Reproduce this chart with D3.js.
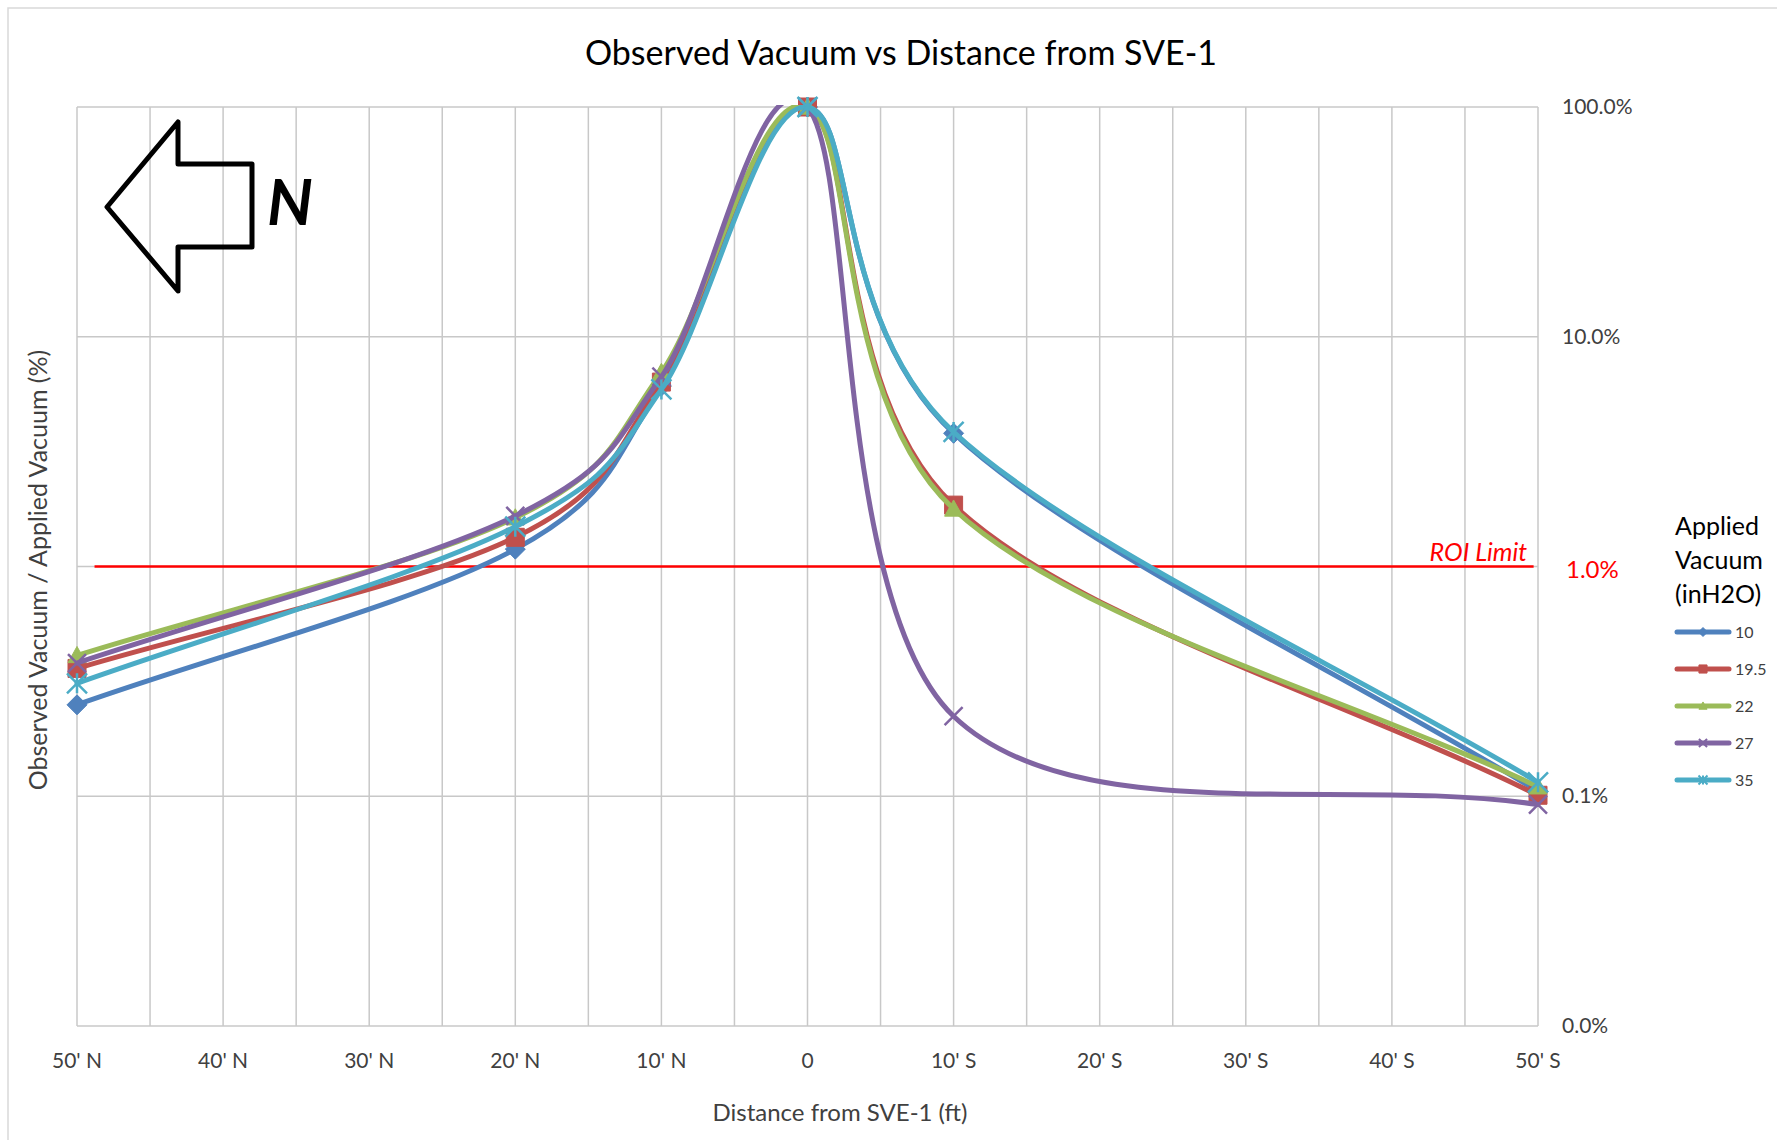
<!DOCTYPE html>
<html>
<head>
<meta charset="utf-8">
<script src="https://cdn.jsdelivr.net/npm/d3@7"></script>
<style>
  body { margin: 0; background: #fff; }
  svg { display: block; font-family: Lato, 'Open Sans', sans-serif; }
</style>
</head>
<body>
<div id="chart"></div>
<script>
// distance from SVE-1 in ft (negative = north, positive = south)
const distances = [-50, -20, -10, 0, 10, 50];
const seriesNames = ['10', '19.5', '22', '27', '35'];
// observed / applied vacuum, in %
const vac10 = [0.25, 1.19, 6.1, 100, 3.8, 0.105];
const vac195 = [0.36, 1.34, 6.35, 100, 1.85, 0.101];
const vac22 = [0.41, 1.63, 7.0, 100, 1.78, 0.11];
const vac27 = [0.38, 1.66, 6.7, 100, 0.223, 0.092];
const vac35 = [0.31, 1.49, 5.9, 100, 3.85, 0.115];
const xTicks = [-50, -40, -30, -20, -10, 0, 10, 20, 30, 40, 50];
const xGridLines = [-50, -45, -40, -35, -30, -25, -20, -15, -10, -5, 0, 5, 10, 15, 20, 25, 30, 35, 40, 45, 50];
const yTicks = [0.01, 0.1, 1, 10, 100];
const roiLimit = 1;
const roiExtent = [-48.8, 49.7];

const colors = ['#4F81BD', '#C0504D', '#9BBB59', '#8064A2', '#4BACC6'];
const markers = ['diamond', 'square', 'triangle', 'x', 'star'];
const allValues = [vac10, vac195, vac22, vac27, vac35];

const width = 1777, height = 1140;
const plot = { left: 77, right: 1538, top: 107, bottom: 1026 };

const svg = d3.select('#chart').append('svg')
    .attr('width', width)
    .attr('height', height);

svg.append('rect').attr('width', width).attr('height', height).attr('fill', '#fff');
// chart area border (right/bottom run off the picture)
svg.append('rect')
    .attr('x', 8).attr('y', 8)
    .attr('width', width + 20).attr('height', height + 20)
    .attr('fill', 'none').attr('stroke', '#d9d9d9').attr('stroke-width', 1.5);

const x = d3.scaleLinear().domain([-50, 50]).range([plot.left, plot.right]);
const y = d3.scaleLog().domain([0.01, 100]).range([plot.bottom, plot.top]);

// gridlines
svg.append('g').selectAll('line')
    .data(xGridLines)
    .enter().append('line')
    .attr('x1', d => x(d)).attr('x2', d => x(d))
    .attr('y1', plot.top).attr('y2', plot.bottom)
    .attr('stroke', '#c8c8c8').attr('stroke-width', 1.5);

svg.append('g').selectAll('line')
    .data(yTicks)
    .enter().append('line')
    .attr('x1', plot.left).attr('x2', plot.right)
    .attr('y1', d => y(d)).attr('y2', d => y(d))
    .attr('stroke', '#c8c8c8').attr('stroke-width', 1.5);

// x axis labels
const xLabel = d => d < 0 ? `${-d}' N` : d > 0 ? `${d}' S` : '0';
svg.append('g').selectAll('text')
    .data(xTicks)
    .enter().append('text')
    .attr('x', d => x(d))
    .attr('y', 1068)
    .attr('text-anchor', 'middle')
    .attr('font-size', 21)
    .attr('fill', '#404040')
    .text(xLabel);

// y axis labels, on the right (the ROI one is red and a bit larger)
const pct = d3.format('.1%');
svg.append('g').selectAll('text')
    .data(yTicks)
    .enter().append('text')
    .attr('x', d => d === roiLimit ? 1566 : 1562)
    .attr('y', d => y(d) + (d === roiLimit ? 11 : 7))
    .attr('font-size', d => d === roiLimit ? 24 : 21)
    .attr('fill', d => d === roiLimit ? '#FF0000' : '#404040')
    .text(d => pct(d / 100));

// titles
svg.append('text')
    .attr('x', 901).attr('y', 65)
    .attr('text-anchor', 'middle')
    .attr('font-size', 34)
    .attr('fill', '#000')
    .text('Observed Vacuum vs Distance from SVE-1');

svg.append('text')
    .attr('x', 840).attr('y', 1121)
    .attr('text-anchor', 'middle')
    .attr('font-size', 24)
    .attr('fill', '#404040')
    .text('Distance from SVE-1 (ft)');

svg.append('text')
    .attr('transform', 'translate(47,570) rotate(-90)')
    .attr('text-anchor', 'middle')
    .attr('font-size', 25)
    .attr('fill', '#404040')
    .text('Observed Vacuum / Applied Vacuum (%)');

// ROI limit line
svg.append('line')
    .attr('x1', x(roiExtent[0])).attr('x2', x(roiExtent[1]))
    .attr('y1', y(roiLimit)).attr('y2', y(roiLimit))
    .attr('stroke', '#FF0000').attr('stroke-width', 2.5);
svg.append('text')
    .attr('x', 1527).attr('y', y(roiLimit) - 6)
    .attr('text-anchor', 'end')
    .attr('font-size', 25)
    .attr('font-style', 'italic')
    .attr('fill', '#FF0000')
    .text('ROI Limit');

// north arrow
svg.append('path')
    .attr('d', 'M107,207 L178,122 L178,164 L252,164 L252,247 L178,247 L178,291 Z')
    .attr('fill', 'none').attr('stroke', '#000').attr('stroke-width', 5)
    .attr('stroke-linejoin', 'round');
svg.append('text')
    .attr('x', 290).attr('y', 225)
    .attr('text-anchor', 'middle')
    .attr('font-size', 64)
    .attr('font-weight', 'bold')
    .attr('font-style', 'italic')
    .text('N');

// series
svg.append('defs').append('clipPath').attr('id', 'plotclip')
    .append('rect').attr('x', 0).attr('y', plot.top - 2).attr('width', width).attr('height', height);

// spreadsheet-style smoothed line: 1/6 tangents, reflected end points
function smoothCurve(context) {
    let pts;
    return {
        areaStart() {}, areaEnd() {},
        lineStart() { pts = []; },
        point(px, py) { pts.push([+px, +py]); },
        lineEnd() {
            const n = pts.length;
            if (!n) return;
            context.moveTo(pts[0][0], pts[0][1]);
            if (n === 1) return;
            const refl = (a, b) => [2 * a[0] - b[0], 2 * a[1] - b[1]];
            for (let i = 0; i < n - 1; i++) {
                const p0 = i > 0 ? pts[i - 1] : refl(pts[0], pts[1]);
                const p1 = pts[i], p2 = pts[i + 1];
                const p3 = i + 2 < n ? pts[i + 2] : refl(pts[n - 1], pts[n - 2]);
                context.bezierCurveTo(
                    p1[0] + (p2[0] - p0[0]) / 6, p1[1] + (p2[1] - p0[1]) / 6,
                    p2[0] - (p3[0] - p1[0]) / 6, p2[1] - (p3[1] - p1[1]) / 6,
                    p2[0], p2[1]);
            }
        }
    };
}

const line = d3.line()
    .x(d => x(d.x))
    .y(d => y(d.v))
    .curve(smoothCurve);

const markerPath = (type, r) => {
    if (type === 'diamond') return `M0,${-r}L${r},0L0,${r}L${-r},0Z`;
    if (type === 'square') return `M${-r},${-r}H${r}V${r}H${-r}Z`;
    if (type === 'triangle') return `M0,${-r}L${r},${r * 0.8}L${-r},${r * 0.8}Z`;
    if (type === 'x') return `M${-r},${-r}L${r},${r}M${-r},${r}L${r},${-r}`;
    return `M${-r},${-r}L${r},${r}M${-r},${r}L${r},${-r}M0,${-r}V${r}`;
};
const markerR = { diamond: 10, square: 9, triangle: 9, x: 9, star: 10 };
const filled = t => t === 'diamond' || t === 'square' || t === 'triangle';

seriesNames.forEach((name, i) => {
    const pts = distances.map((d, j) => ({ x: d, v: allValues[i][j] }));
    svg.append('path')
        .datum(pts)
        .attr('clip-path', 'url(#plotclip)')
        .attr('fill', 'none')
        .attr('stroke', colors[i])
        .attr('stroke-width', 5)
        .attr('stroke-linecap', 'round')
        .attr('d', line);

    svg.append('g').selectAll('path')
        .data(pts)
        .enter().append('path')
        .attr('transform', d => `translate(${x(d.x)},${y(d.v)})`)
        .attr('d', markerPath(markers[i], markerR[markers[i]]))
        .attr('fill', filled(markers[i]) ? colors[i] : 'none')
        .attr('stroke', colors[i])
        .attr('stroke-width', filled(markers[i]) ? 1 : 2.5);
});

// legend
const legend = svg.append('g');
['Applied', 'Vacuum', '(inH2O)'].forEach((t, i) => {
    legend.append('text')
        .attr('x', 1675).attr('y', 535 + i * 34)
        .attr('font-size', 25)
        .attr('fill', '#000')
        .text(t);
});
seriesNames.forEach((name, i) => {
    const ly = 632 + i * 37;
    legend.append('line')
        .attr('x1', 1677).attr('x2', 1729)
        .attr('y1', ly).attr('y2', ly)
        .attr('stroke', colors[i]).attr('stroke-width', 5)
        .attr('stroke-linecap', 'round');
    legend.append('path')
        .attr('transform', `translate(1703,${ly})`)
        .attr('d', markerPath(markers[i], markerR[markers[i]] * 0.45))
        .attr('fill', filled(markers[i]) ? colors[i] : 'none')
        .attr('stroke', colors[i])
        .attr('stroke-width', filled(markers[i]) ? 1 : 2);
    legend.append('text')
        .attr('x', 1735).attr('y', ly + 6)
        .attr('font-size', 16)
        .attr('fill', '#404040')
        .text(name);
});
</script>
</body>
</html>
